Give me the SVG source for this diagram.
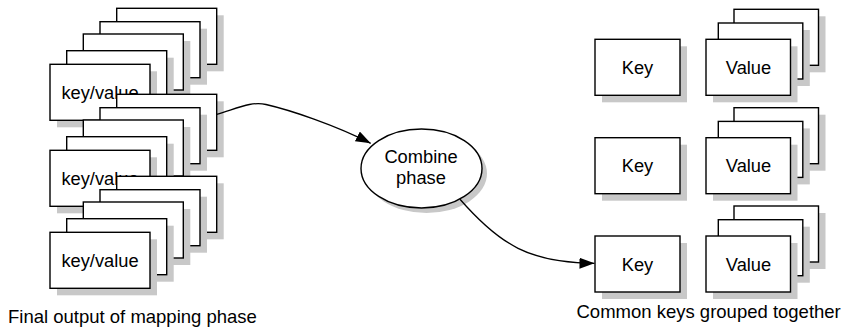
<svg xmlns="http://www.w3.org/2000/svg" xmlns:xlink="http://www.w3.org/1999/xlink" width="844" height="330" viewBox="0 0 844 330">
  <style>
    .shadow { fill: #c8c8c8; stroke: none; }
    .card { fill: #ffffff; stroke: #000000; stroke-width: 1.4; }
    .label { font-family: "Liberation Sans", Arial, Helvetica, sans-serif; font-size: 18.3px; fill: #000000; }
    .mid { text-anchor: middle; }
    .edge { fill: none; stroke: #000000; stroke-width: 1.3; }
  </style>
  <defs>
    <marker id="arrow" markerUnits="userSpaceOnUse" markerWidth="15" markerHeight="11" refX="15" refY="5.5" orient="auto">
      <path d="M0,0 L15,5.5 L0,11 Z" fill="#000000"/>
    </marker>
    <!-- one card of the key/value stacks, with its drop shadow -->
    <g id="kvCard">
      <rect class="shadow" x="7" y="7" width="100" height="56"/>
      <rect class="card" x="0" y="0" width="100" height="56"/>
    </g>
    <!-- one card of the grouped value stacks -->
    <g id="valCard">
      <rect class="shadow" x="7" y="7" width="84.5" height="56"/>
      <rect class="card" x="0" y="0" width="84.5" height="56"/>
    </g>
    <!-- a fanned stack of five key/value cards -->
    <g id="kvStack">
      <use xlink:href="#kvCard" x="116.7" y="8.3"/>
      <use xlink:href="#kvCard" x="100" y="21.7"/>
      <use xlink:href="#kvCard" x="83.3" y="34"/>
      <use xlink:href="#kvCard" x="66.7" y="50.7"/>
      <use xlink:href="#kvCard" x="50" y="64.3"/>
      <text class="label mid" x="100" y="98.6">key/value</text>
    </g>
    <!-- three values for one key -->
    <g id="valStack">
      <use xlink:href="#valCard" x="734" y="-30"/>
      <use xlink:href="#valCard" x="718.3" y="-16.3"/>
      <use xlink:href="#valCard" x="706" y="0"/>
      <text class="label mid" x="748.5" y="34.6">Value</text>
    </g>
    <g id="keyBox">
      <rect class="shadow" x="602" y="7" width="85" height="56"/>
      <rect class="card" x="595" y="0" width="85" height="56"/>
      <text class="label mid" x="637.5" y="34.6">Key</text>
    </g>
  </defs>

  <!-- map output: three stacks of key/value pairs -->
  <g id="map-output-1"><use xlink:href="#kvStack"/></g>
  <g id="map-output-2"><use xlink:href="#kvStack" y="86"/></g>
  <g id="map-output-3"><use xlink:href="#kvStack" y="168"/></g>

  <!-- combine step -->
  <g id="combine-phase">
    <ellipse class="shadow" cx="426.5" cy="173.5" rx="60.5" ry="39.5"/>
    <ellipse class="card" cx="421.5" cy="168.5" rx="60.5" ry="39.5"/>
    <text class="label mid" x="421" y="163.3">Combine</text>
    <text class="label mid" x="421" y="184.4">phase</text>
  </g>

  <!-- grouped results: each key with its values -->
  <g id="group-1">
    <use xlink:href="#keyBox" y="39.3"/>
    <use xlink:href="#valStack" y="39.3"/>
  </g>
  <g id="group-2">
    <use xlink:href="#keyBox" y="137.7"/>
    <use xlink:href="#valStack" y="137.7"/>
  </g>
  <g id="group-3">
    <use xlink:href="#keyBox" y="236"/>
    <use xlink:href="#valStack" y="236"/>
  </g>

  <!-- connectors -->
  <g id="connectors">
    <path class="edge" marker-end="url(#arrow)" d="M216.7,114.3 C238,108 252,101 266,104.5 C290,110 335,125 370.7,143.3"/>
    <path class="edge" marker-end="url(#arrow)" d="M460,199.2 C500,245 530,263 594.5,263.3"/>
  </g>

  <!-- captions -->
  <g id="captions">
    <text class="label" x="8" y="323" style="font-size:18.5px">Final output of mapping phase</text>
    <text class="label" x="576.5" y="318.3" style="font-size:18.5px">Common keys grouped together</text>
  </g>
</svg>
